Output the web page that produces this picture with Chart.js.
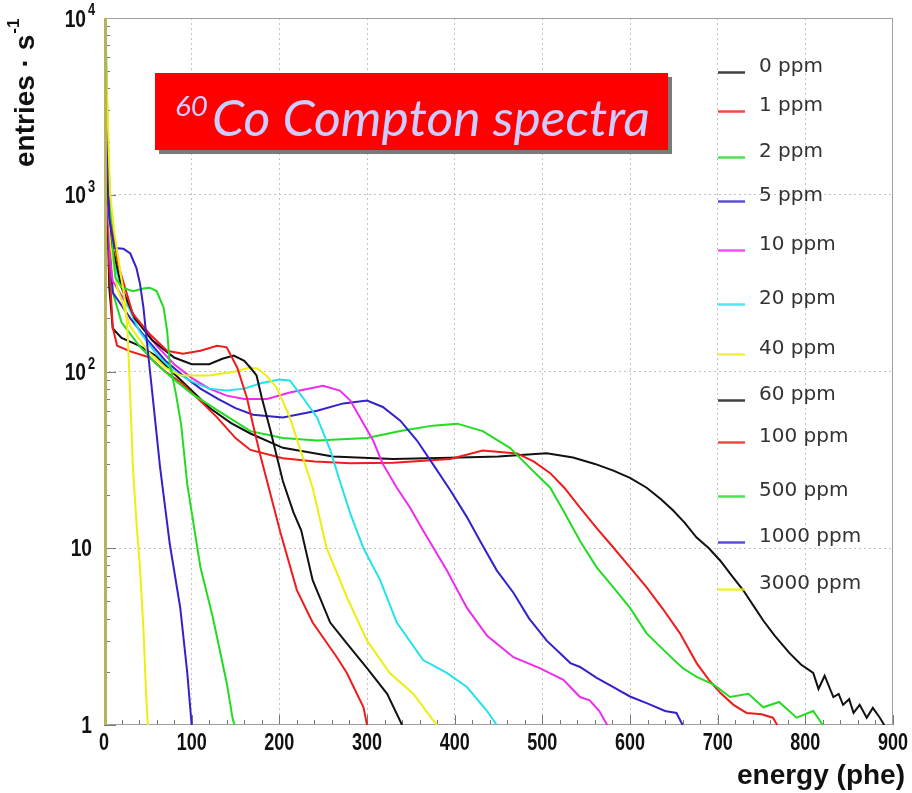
<!DOCTYPE html>
<html><head><meta charset="utf-8">
<script src="https://cdn.jsdelivr.net/npm/chart.js@4/dist/chart.umd.min.js"></script>
<style>html,body{margin:0;padding:0;background:#fff}#wrap{width:912px;height:793px}</style>
</head><body><div id="wrap"><canvas id="c" width="912" height="793"></canvas></div>
<script>
// ---------------- data ----------------
const seriesLabels = ['0 ppm','1 ppm','2 ppm','5 ppm','10 ppm','20 ppm','40 ppm','60 ppm','100 ppm','500 ppm','1000 ppm','3000 ppm'];

const energy_0ppm = [0,3,6,10,20,40,60,80,100,121,145,167,204,261,330,395,450,505,535,560,581,600,619,635,649,662,676,690,703,716,729,740,752,765,782,795,809,815,822,832,838,843,850,855,862,870,877,885,890];
const rate_0ppm   = [3000,1200,300,175,155,140,122,97,78,62,51,44.6,37,33,32,32.5,33,34.5,32.6,30,27.5,25,22,19,16.4,14,11.5,10,8.5,7,5.8,4.8,3.9,3.2,2.55,2.2,1.97,1.6,1.9,1.44,1.5,1.3,1.4,1.17,1.3,1.1,1.25,1.1,1.0];

const energy_1ppm = [0,3,6,10,15,30,52,70,90,110,129,150,167,204,240,281,330,395,432,471,490,509,525,543,562,581,600,619,638,657,676,690,703,718,733,750,763,768];
const rate_1ppm   = [4000,1500,400,177,140,130,120,100,85,68,55,42,36,32.3,31,30.3,30.5,32,35.7,34.4,31,26.6,22,17,13,10.1,7.8,6,4.5,3.3,2.24,1.8,1.52,1.3,1.17,1.15,1.1,1.0];

const energy_2ppm = [0,3,6,10,20,40,60,80,100,130,167,204,243,300,338,375,403,432,463,489,509,525,543,562,581,600,619,642,660,676,695,714,735,752,770,790,809,820];
const rate_2ppm   = [6000,2500,600,280,190,140,110,90,75,60,46,42,40.7,42,46,49.4,50.7,46,37,27.5,22,16,11,7.8,6,4.6,3.3,2.55,2.1,1.87,1.7,1.44,1.5,1.26,1.35,1.1,1.2,1.0];

const energy_5ppm = [0,3,6,10,30,50,70,90,110,130,150,170,204,243,273,300,318,338,357,375,395,414,429,448,467,485,505,532,543,562,581,600,619,640,653,660];
const rate_5ppm   = [5000,2000,500,280,200,150,115,95,80,70,62,57,55,60,66,68.5,63,52.7,40.7,30,21.3,15,11,7.5,5.6,4.0,3.0,2.24,2.13,1.85,1.64,1.45,1.33,1.2,1.17,1.0];

const energy_10ppm = [0,3,7,10,26,40,60,80,100,120,140,160,186,212,250,269,281,292,307,318,334,349,364,391,414,437,467,497,524,543,554,565,574];
const rate_10ppm   = [5000,1500,420,325,240,190,140,110,92,80,73,70,70,76,83,78,68.5,55,40.7,30,22,17,12.6,7.5,4.6,3.2,2.42,2.1,1.8,1.44,1.38,1.2,1.0];

const energy_20ppm = [0,3,8,12,25,40,60,80,100,120,140,160,180,200,212,227,243,258,269,281,296,315,334,364,391,414,437,448];
const rate_20ppm   = [5000,2000,550,400,250,170,125,100,88,80,78,80,86,90,89,71,55,36,24,15.7,10,6.6,3.8,2.33,1.97,1.64,1.2,1.0];

const energy_40ppm = [0,3,8,15,30,50,70,87,120,150,165,175,185,197,212,224,238,254,277,300,326,353,375,380];
const rate_40ppm   = [6000,1500,500,300,180,130,105,95,95,100,105,104,95,81,55,36,22,10,5.3,3.0,1.97,1.5,1.07,1.0];

const energy_60ppm = [0,3,5,10,20,35,55,80,100,120,135,148,160,167,174,180,190,204,216,225,238,258,277,300,323,340];
const rate_60ppm   = [6000,3000,900,500,300,200,150,120,110,110,118,123,115,105,95,71,46,24,16,12.6,6.6,3.8,2.9,2.1,1.5,1.0];

const energy_100ppm = [0,3,7,10,16,33,52,72,90,110,129,140,152,163,170,178,189,201,220,238,266,277,296,300];
const rate_100ppm   = [8000,2000,780,620,405,211,163,131,126,131,140,137,105,71,50,34,21,12.4,5.8,3.8,2.4,1.97,1.26,1.0];

const energy_500ppm = [0,2,5,10,13,20,33,45,52,60,68,72,75,82,88,95,110,124,140,147,149];
const rate_500ppm   = [10000,8000,1500,500,340,300,285,295,298,285,230,170,111,75,50,23,7.8,4.1,1.73,1.07,1.0];

const energy_1000ppm = [0,3,6,12,22,30,37,41,45,50,56,64,75,87,95,100];
const rate_1000ppm   = [10000,3000,740,500,495,465,385,315,230,131,68.5,28.6,10.6,4.6,1.97,1.0];

const energy_3000ppm = [0,1,7,12,18,24,27,30,33,37,41,45,48,50];
const rate_3000ppm   = [12000,9000,1000,600,385,250,164,70,28.6,14,7.8,3.5,1.5,1.0];

const xTickValues = [0,100,200,300,400,500,600,700,800,900];
const yTickValues = [1,10,100,1000,10000];
const yTickBase   = ['1','10','10','10','10'];
const yTickExp    = ['','','2','3','4'];

// ---------------- styling ----------------
const energies = [energy_0ppm,energy_1ppm,energy_2ppm,energy_5ppm,energy_10ppm,energy_20ppm,energy_40ppm,energy_60ppm,energy_100ppm,energy_500ppm,energy_1000ppm,energy_3000ppm];
const rates = [rate_0ppm,rate_1ppm,rate_2ppm,rate_5ppm,rate_10ppm,rate_20ppm,rate_40ppm,rate_60ppm,rate_100ppm,rate_500ppm,rate_1000ppm,rate_3000ppm];
const BLACK='#111111', RED='#f01c1c', GREEN='#22dc22', BLUE='#3322cc', MAG='#ee2cee', CYAN='#22e2ec', YEL='#eeee10';
const colors = [BLACK,RED,GREEN,BLUE,MAG,CYAN,YEL,BLACK,RED,GREEN,BLUE,YEL];
const legendRowY = [66,105,151,195,244,298,348,394,436,490,536,583];

const datasets = seriesLabels.map((lab,i)=>({
  label: lab,
  data: energies[i].map((e,k)=>({x:e, y:rates[i][k]})),
  borderColor: colors[i],
  backgroundColor: colors[i],
  borderWidth: 2,
  pointRadius: 0,
  tension: 0,
  fill: false,
  order: -i
}));

function condText(ctx, text, x, y, sx, align){
  ctx.save(); ctx.translate(x,y); ctx.scale(sx,1); ctx.textAlign=align; ctx.fillText(text,0,0); ctx.restore();
}

const decor = {
  id:'decor',
  beforeDatasetsDraw(chart){
    const {ctx, chartArea:a, scales:{x,y}} = chart;
    ctx.save();
    // minor / major ticks
    ctx.strokeStyle='#777'; ctx.lineWidth=1;
    ctx.beginPath();
    for(let v=0; v<=900; v+=20){
      const px=Math.round(x.getPixelForValue(v))+0.5;
      const len = (v%100===0)?10:5;
      ctx.moveTo(px,a.bottom); ctx.lineTo(px,a.bottom-len);
    }
    for(let d=1; d<10000; d*=10){
      for(let m=1;m<=10;m++){
        const v=d*m; const py=Math.round(y.getPixelForValue(v))+0.5;
        const len=(m===1||m===10)?12:6;
        ctx.moveTo(a.left,py); ctx.lineTo(a.left+len,py);
      }
    }
    ctx.stroke();
    // frame
    ctx.strokeStyle='#a0a0a0'; ctx.lineWidth=1;
    ctx.strokeRect(a.left+0.5,a.top+0.5,a.right-a.left-1,a.bottom-a.top-1);
    ctx.restore();
  },
  afterDatasetsDraw(chart){
    const {ctx, chartArea:a, scales:{x,y}} = chart;
    ctx.save();
    // left axis band
    ctx.strokeStyle='#b8b25a'; ctx.lineWidth=3;
    ctx.beginPath(); ctx.moveTo(a.left+1.5,a.top); ctx.lineTo(a.left+1.5,a.bottom); ctx.stroke();

    // title box
    ctx.fillStyle='#7a7a7a'; ctx.fillRect(159,77,513,77);
    ctx.fillStyle='#ff0000'; ctx.fillRect(155,73,513,77);
    ctx.fillStyle='#ccccff';
    ctx.textBaseline='alphabetic';
    ctx.font='italic 50px Lato';
    let w=ctx.measureText('Co Compton spectra').width;
    ctx.save(); ctx.translate(212,136); ctx.scale(438/w,1); ctx.textAlign='left'; ctx.fillText('Co Compton spectra',0,0); ctx.restore();
    ctx.font='italic 27px Lato';
    w=ctx.measureText('60').width;
    ctx.save(); ctx.translate(175,116); ctx.scale(33/w,1); ctx.textAlign='left'; ctx.fillText('60',0,0); ctx.restore();

    // legend
    ctx.font='20px "DejaVu Sans"'; ctx.textBaseline='middle'; ctx.textAlign='left';
    seriesLabels.forEach((lab,i)=>{
      const yy=legendRowY[i];
      ctx.strokeStyle=colors[i]; ctx.globalAlpha=0.8; ctx.lineWidth=2.5;
      ctx.beginPath(); ctx.moveTo(718,yy+6.5); ctx.lineTo(745,yy+6.5); ctx.stroke();
      ctx.globalAlpha=1;
      ctx.fillStyle='#333'; ctx.fillText(lab,759,yy+1);
    });
    ctx.restore();
  },
  afterDraw(chart){
    const {ctx, chartArea:a, scales:{x,y}} = chart;
    ctx.save();
    ctx.fillStyle='#111';
    // x tick labels
    ctx.font='bold 24px "Liberation Sans"'; ctx.textBaseline='middle';
    xTickValues.forEach(v=>{ condText(ctx,String(v),x.getPixelForValue(v),743,0.75,'center'); });
    // y tick labels
    yTickValues.forEach((v,i)=>{
      const py=y.getPixelForValue(v);
      ctx.font='bold 24px "Liberation Sans"'; ctx.textBaseline='middle';
      if(yTickExp[i]){
        condText(ctx,yTickBase[i],86,py+2,0.8,'right');
        ctx.font='bold 16px "Liberation Sans"';
        condText(ctx,yTickExp[i],88,py-7,0.8,'left');
      } else {
        condText(ctx,yTickBase[i],92,py+1,0.8,'right');
      }
    });
    // axis titles
    ctx.font='bold 28px "Liberation Sans"'; ctx.textBaseline='alphabetic'; ctx.textAlign='right';
    ctx.fillText('energy (phe)',905,784);
    ctx.save(); ctx.translate(34,167); ctx.rotate(-Math.PI/2);
    ctx.textAlign='left';
    const t='entries · s'; ctx.fillText(t,0,0);
    const tw=ctx.measureText(t).width;
    ctx.font='bold 17px "Liberation Sans"'; ctx.fillText('-1',tw+1,-15);
    ctx.restore();
    ctx.restore();
  }
};

new Chart(document.getElementById('c').getContext('2d'), {
  type:'line',
  data:{datasets},
  options:{
    responsive:false, animation:false, devicePixelRatio:1,
    layout:{padding:{left:104,right:19,top:18,bottom:68}},
    plugins:{legend:{display:false}, tooltip:{enabled:false}},
    scales:{
      x:{type:'linear', min:0, max:900,
         afterBuildTicks:s=>{ s.ticks = xTickValues.map(v=>({value:v})); },
         afterFit:s=>{ s.height=0; },
         ticks:{display:false},
         grid:{drawTicks:false, lineWidth:1, color:c=>(c.tick && (c.tick.value===0||c.tick.value===900))?'rgba(0,0,0,0)':'#c2c2c2'},
         border:{display:false, dash:[2,3]}},
      y:{type:'logarithmic', min:1, max:10000,
         afterBuildTicks:s=>{ s.ticks = yTickValues.map(v=>({value:v})); },
         afterFit:s=>{ s.width=0; },
         ticks:{display:false},
         grid:{drawTicks:false, lineWidth:1, color:c=>(c.tick && (c.tick.value===1||c.tick.value===10000))?'rgba(0,0,0,0)':'#c2c2c2'},
         border:{display:false, dash:[2,3]}}
    }
  },
  plugins:[decor]
});
</script></body></html>
